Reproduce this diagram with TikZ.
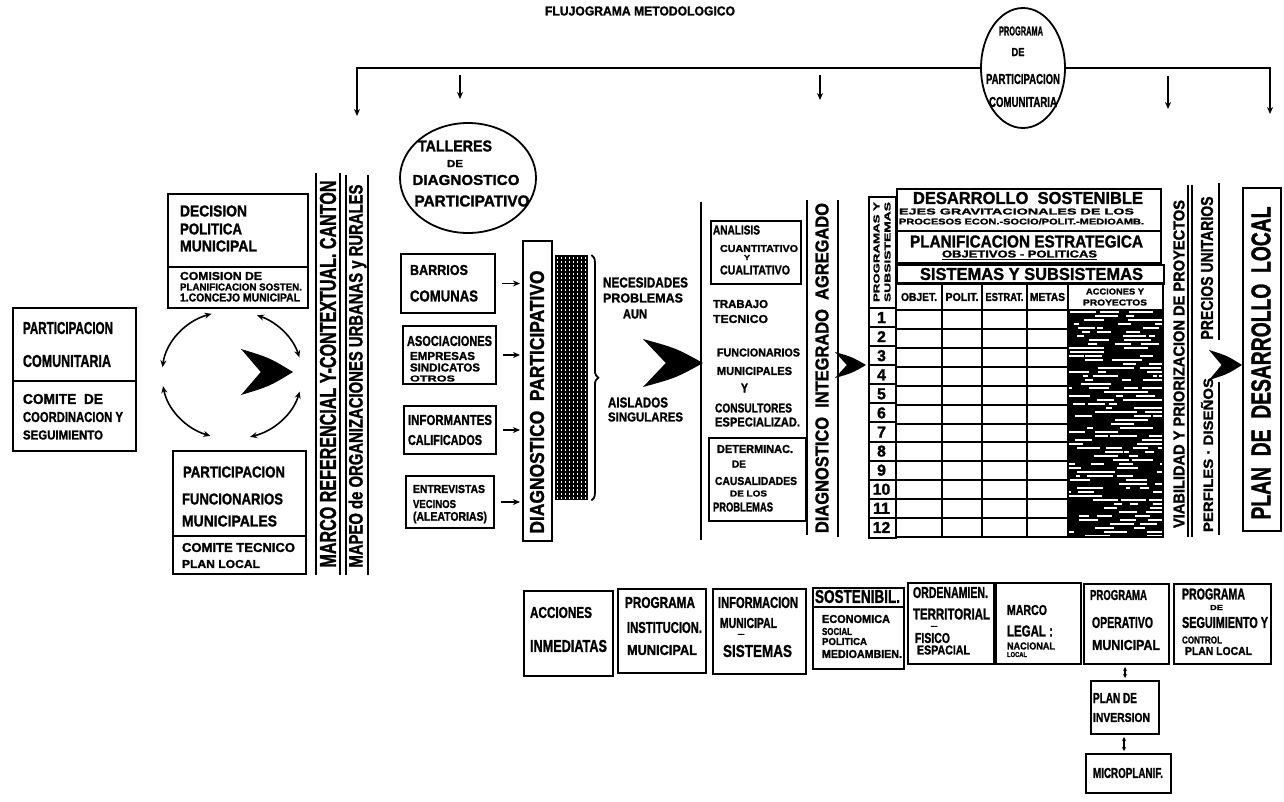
\documentclass[tikz,border=0pt]{standalone}
\usepackage{fontspec}
\setmainfont{Liberation Sans}[BoldFeatures={FakeBold=1.5}]
\usepackage{graphicx}
\usetikzlibrary{arrows.meta,decorations.pathreplacing,shapes.geometric,calc}
\newcommand{\fitt}[3]{\resizebox{#1pt}{#2pt}{\bfseries #3}}
\newcommand{\fith}[2]{\resizebox{!}{#1pt}{\bfseries #2}}
\newcommand{\fletch}[4]{%
\fill[black] (#1,#2) .. controls ({#1-0.45*#3},{#2-0.62*#4}) .. ({#1-#3},{#2-#4})
 .. controls ({#1-0.8*#3},{#2-0.5*#4}) .. ({#1-0.62*#3},#2)
 .. controls ({#1-0.8*#3},{#2+0.5*#4}) .. ({#1-#3},{#2+#4})
 .. controls ({#1-0.45*#3},{#2+0.62*#4}) .. (#1,#2) -- cycle;}
\begin{document}
\begin{tikzpicture}[x=1pt,y=-1pt,
 box/.style={draw, line width=2pt, inner sep=0, anchor=north west},
 txt/.style={inner sep=0, outer sep=0, anchor=west},
 ctxt/.style={inner sep=0, outer sep=0},
 vtxt/.style={inner sep=0, outer sep=0, rotate=90},
 ln/.style={line width=2pt},
 arr/.style={line width=1.6pt, -{Stealth[length=7pt,width=6pt]}},
 dbl/.style={line width=1.6pt, {Stealth[length=7pt,width=6pt]}-{Stealth[length=7pt,width=6pt]}},
 sdbl/.style={line width=1.4pt, {Stealth[length=4pt,width=4pt]}-{Stealth[length=4pt,width=4pt]}},
]
\fill[white] (0,0) rectangle (1284,801);
\useasboundingbox (0,0) rectangle (1284,801);

% title
\node[ctxt] (title) at (640,11) {\fitt{190}{9}{FLUJOGRAMA METODOLOGICO}};

% programa de participacion comunitaria
\node[draw, ellipse, line width=1.8pt, minimum width=84pt, minimum height=120pt, inner sep=0] (ppc) at (1023,68) {};
\node[ctxt] (ppc1) at (1021,31) {\fitt{44}{9}{PROGRAMA}};
\node[ctxt] (ppc2) at (1018,52) {\fitt{13}{8}{DE}};
\node[ctxt] (ppc3) at (1023,79) {\fitt{74}{10}{PARTICIPACION}};
\node[ctxt] (ppc4) at (1023,102) {\fitt{68}{10}{COMUNITARIA}};
\coordinate (barL) at (357,68);
\coordinate (barR) at (1270,68);
\coordinate (aL) at (357,116);
\coordinate (aR) at (1270,114);
\draw[arr] (ppc.west) -- (barL) -- (aL);
\draw[arr] (ppc.east) -- (barR) -- (aR);
\coordinate (s1a) at (460,75); \coordinate (s1b) at (460,99);
\coordinate (s2a) at (820,75); \coordinate (s2b) at (820,100);
\coordinate (s3a) at (1168,76); \coordinate (s3b) at (1168,109);
\draw[arr] (s1a) -- (s1b);
\draw[arr] (s2a) -- (s2b);
\draw[arr] (s3a) -- (s3b);

% left box
\node[box, minimum width=123pt, minimum height=143pt] (lb) at (12,307) {};
\draw[ln] ([yshift=-74pt]lb.north west) -- ([yshift=-74pt]lb.north east);
\node[txt] (lb1) at (23,328) {\fitt{90}{12}{PARTICIPACION}};
\node[txt] (lb2) at (23,361) {\fitt{88}{12}{COMUNITARIA}};
\node[txt] (lb3) at (23,399) {\fitt{80}{10}{COMITE \ DE}};
\node[txt] (lb4) at (23,417) {\fitt{100}{10}{COORDINACION Y}};
\node[txt] (lb5) at (23,435) {\fitt{80}{9}{SEGUIMIENTO}};

% decision politica
\node[box, minimum width=140pt, minimum height=114pt] (dp) at (167,193) {};
\draw[ln] ([yshift=-74pt]dp.north west) -- ([yshift=-74pt]dp.north east);
\node[txt] (dp1) at (180,211) {\fitt{67}{11}{DECISION}};
\node[txt] (dp2) at (180,229) {\fitt{62}{11}{POLITICA}};
\node[txt] (dp3) at (180,246) {\fitt{77}{11}{MUNICIPAL}};
\node[txt] (dp4) at (180,276) {\fitt{82}{8}{COMISION DE}};
\node[txt] (dp5) at (180,287) {\fitt{122}{7}{PLANIFICACION SOSTEN.}};
\node[txt] (dp6) at (180,297.5) {\fitt{120}{8}{1.CONCEJO MUNICIPAL}};

% participacion funcionarios
\node[box, minimum width=133pt, minimum height=123pt] (pf) at (172,450) {};
\draw[ln] ([yshift=-86pt]pf.north west) -- ([yshift=-86pt]pf.north east);
\node[txt] (pf1) at (183,472) {\fitt{102}{11}{PARTICIPACION}};
\node[txt] (pf2) at (182,499) {\fitt{101}{11}{FUNCIONARIOS}};
\node[txt] (pf3) at (182,521) {\fitt{95}{11}{MUNICIPALES}};
\node[txt] (pf4) at (182,547.5) {\fitt{113}{9}{COMITE TECNICO}};
\node[txt] (pf5) at (182,564) {\fitt{78}{8}{PLAN LOCAL}};

% cycle of arrows
\coordinate (cyc) at (232,375);
\draw[dbl] ([shift={(-173:70 and 64)}]cyc) arc[start angle=-173, end angle=-107, x radius=70, y radius=64];
\draw[dbl] ([shift={(-69:70 and 64)}]cyc) arc[start angle=-69, end angle=-16, x radius=70, y radius=64];
\draw[dbl] ([shift={(-190:70 and 64)}]cyc) arc[start angle=-190, end angle=-252, x radius=70, y radius=64];
\draw[dbl] ([shift={(-285:70 and 64)}]cyc) arc[start angle=-285, end angle=-345, x radius=70, y radius=64];
\fletch{293}{372}{52}{23}

% vertical bars marco / mapeo
\draw[ln] (316,173) -- (316,575);
\draw[ln] (340,173) -- (340,575);
\draw[ln] (346,175) -- (346,575);
\draw[ln] (368,175) -- (368,575);
\node[vtxt] (marco) at (328,374) {\fitt{387}{16}{MARCO REFERENCIAL Y-CONTEXTUAL. CANTON}};
\node[vtxt] (mapeo) at (357.5,376) {\fitt{383}{14}{MAPEO de ORGANIZACIONES URBANAS y RURALES}};

% talleres
\node[draw, ellipse, line width=1.8pt, minimum width=136pt, minimum height=110pt, inner sep=0] (tal) at (468,178) {};
\node[ctxt] (tal1) at (455,146) {\fitt{74}{11}{TALLERES}};
\node[ctxt] (tal2) at (455,163.5) {\fitt{16}{7}{DE}};
\node[ctxt] (tal3) at (466,180) {\fitt{107}{10}{DIAGNOSTICO}};
\node[ctxt] (tal4) at (472,201) {\fitt{115}{11}{PARTICIPATIVO}};

% input boxes
\node[box, minimum width=94pt, minimum height=59pt] (b1) at (400,253) {};
\node[txt] (b1a) at (410,270) {\fitt{58}{10}{BARRIOS}};
\node[txt] (b1b) at (410,296) {\fitt{68}{11}{COMUNAS}};
\node[box, minimum width=93pt, minimum height=58pt] (b2) at (402,325) {};
\node[txt] (b2a) at (407,341) {\fitt{85}{10}{ASOCIACIONES}};
\node[txt] (b2b) at (410,356) {\fitt{65}{8}{EMPRESAS}};
\node[txt] (b2c) at (410,367.5) {\fitt{70}{8}{SINDICATOS}};
\node[txt] (b2d) at (410,378.5) {\fitt{45}{6}{OTROS}};
\node[box, minimum width=92pt, minimum height=48pt] (b3) at (403,405) {};
\node[txt] (b3a) at (408,420) {\fitt{84}{10}{INFORMANTES}};
\node[txt] (b3b) at (408,440) {\fitt{74}{10}{CALIFICADOS}};
\node[box, minimum width=88pt, minimum height=52pt] (b4) at (405,475) {};
\node[txt] (b4a) at (413,489) {\fitt{72}{8}{ENTREVISTAS}};
\node[txt] (b4b) at (413,504) {\fitt{43}{8}{VECINOS}};
\node[txt] (b4c) at (413,517.5) {\fitt{74}{9}{(ALEATORIAS)}};

% diagnostico participativo
\node[box, minimum width=29pt, minimum height=300pt] (diag) at (522,240) {};
\node[vtxt] (diagt) at (537,402) {\fitt{263}{14}{DIAGNOSTICO \ PARTICIPATIVO}};
\foreach \b in {b1,b2,b3,b4}
  \draw[arr, shorten >=2pt] ([xshift=6pt]\b.east) -- (\b.east -| diag.west);

% hatched bar
\node[fill=black, inner sep=0, anchor=north west, minimum width=33pt, minimum height=245pt] (hatch) at (555,255) {};
\foreach \i in {0,...,7}
  \foreach \j in {0,...,60}
    \fill[white] ({556.5+\i*4},{257+\j*4}) rectangle ++(1.8,1.8);
\draw[line width=1.8pt, decorate, decoration={brace, amplitude=7pt}] ([xshift=3pt]hatch.north east) -- ([xshift=3pt]hatch.south east);

\node[txt] (nec1) at (603,282.5) {\fitt{85}{10}{NECESIDADES}};
\node[txt] (nec2) at (603,298) {\fitt{80}{9}{PROBLEMAS}};
\node[txt] (nec3) at (623,314) {\fitt{24}{9}{AUN}};
\node[txt] (ais1) at (608,402.5) {\fitt{60}{10}{AISLADOS}};
\node[txt] (ais2) at (608,417) {\fitt{75}{9}{SINGULARES}};
\fletch{703}{363}{60}{24}

% middle section
\draw[ln] (701,202) -- (701,540);
\node[box, minimum width=90pt, minimum height=63pt] (an) at (710,220) {};
\node[txt] (an1) at (713,230) {\fitt{47}{9}{ANALISIS}};
\node[txt] (an2) at (720,248.5) {\fitt{78}{7}{CUANTITATIVO}};
\node[txt] (an3) at (744,257.5) {\fitt{6}{5}{Y}};
\node[txt] (an4) at (720,270) {\fitt{70}{9}{CUALITATIVO}};
\node[txt] (tr1) at (713,304) {\fitt{55}{8}{TRABAJO}};
\node[txt] (tr2) at (713,319) {\fitt{55}{8}{TECNICO}};
\node[txt] (fu1) at (717,352.5) {\fitt{83}{8}{FUNCIONARIOS}};
\node[txt] (fu2) at (717,371) {\fitt{75}{8}{MUNICIPALES}};
\node[txt] (fu3) at (741,388) {\fitt{7}{9}{Y}};
\node[txt] (fu4) at (715,408) {\fitt{77}{9}{CONSULTORES}};
\node[txt] (fu5) at (715,422) {\fitt{85}{9}{ESPECIALIZAD.}};
\node[box, minimum width=97pt, minimum height=83pt] (dt) at (708,437) {};
\node[txt] (dt1) at (717,449) {\fitt{76}{8}{DETERMINAC.}};
\node[txt] (dt2) at (732,464) {\fitt{14}{7}{DE}};
\node[txt] (dt3) at (715,481) {\fitt{82}{8}{CAUSALIDADES}};
\node[txt] (dt4) at (730,493.5) {\fitt{37}{6}{DE LOS}};
\node[txt] (dt5) at (713,507) {\fitt{60}{9}{PROBLEMAS}};

\draw[ln] (807,200) -- (807,535);
\draw[ln] (838,200) -- (838,537);
\node[vtxt] (dia) at (822,368) {\fitt{330}{13}{DIAGNOSTICO \ INTEGRADO \ AGREGADO}};
\fletch{866}{365}{31}{13}

% table: numbers column
\node[box, minimum width=27pt, minimum height=341pt] (nc) at (868,196) {};
\foreach \i in {0,...,11}
  \draw[ln] (868,{308+\i*19.08}) -- (895,{308+\i*19.08});
\foreach \i in {1,...,12}
  \node[ctxt] (n\i) at (881.5,{308+19.08*(\i-0.5)}) {\fith{11}{\i}};
\node[vtxt] (ncl1) at (876.5,252) {\fitt{100}{6}{PROGRAMAS Y}};
\node[vtxt] (ncl2) at (887.5,252) {\fitt{100}{6}{SUBSISTEMAS}};

% table header boxes
\node[box, minimum width=264pt, minimum height=42pt] (ds) at (896,188) {};
\node[ctxt] (ds1) at (1028,198) {\fitt{230}{12}{DESARROLLO \ SOSTENIBLE}};
\node[txt] (ds2) at (899,211.5) {\fitt{235}{6}{EJES GRAVITACIONALES DE LOS}};
\node[txt] (ds3) at (899,221.5) {\fitt{245}{6}{PROCESOS ECON.-SOCIO/POLIT.-MEDIOAMB.}};
\node[box, minimum width=264pt, minimum height=32pt] (pe) at (896,230) {};
\node[txt] (pe1) at (910,241.5) {\fitt{233}{12}{PLANIFICACION ESTRATEGICA}};
\node[txt] (pe2) at (942,254) {\fitt{155}{7}{OBJETIVOS - POLITICAS}};
\draw[line width=1.2pt] ([yshift=-2pt]pe2.south west) -- ([yshift=-2pt]pe2.south east);
\node[box, minimum width=267pt, minimum height=19pt] (ss) at (896,264) {};
\node[txt] (ss1) at (920,274) {\fitt{223}{12}{SISTEMAS Y SUBSISTEMAS}};

% dark column
\begin{scope}
\clip (1068,310) rectangle (1163,537);
\fill[black] (1068,310) rectangle (1163,537);
\pgfmathsetseed{11}
\foreach \j in {0,...,56}{
  \foreach \k in {1,...,4}{
    \pgfmathsetmacro{\xs}{1066+rnd*95}
    \pgfmathsetmacro{\dl}{4+rnd*22}
    \draw[white, line width=1.1pt] (\xs,{312+\j*4}) -- ++(\dl,0);
  }
}
\end{scope}

% table grid
\draw[ln] (896,283) rectangle (1163,537);
\foreach \xx in {942,982,1027,1068} \draw[ln] (\xx,283) -- (\xx,537);
\foreach \i in {0,...,11} \draw[ln] (896,{310+\i*18.92}) -- (1068,{310+\i*18.92});
\draw[ln] (1068,310) -- (1163,310);
\node[ctxt] (h1) at (919,297) {\fitt{36}{8}{OBJET.}};
\node[ctxt] (h2) at (962,297) {\fitt{33}{8}{POLIT.}};
\node[ctxt] (h3) at (1004.5,297) {\fitt{38}{8}{ESTRAT.}};
\node[ctxt] (h4) at (1047.5,297) {\fitt{35}{8}{METAS}};
\node[ctxt] (h5) at (1115,291.5) {\fitt{58}{6}{ACCIONES Y}};
\node[ctxt] (h6) at (1115,302.5) {\fitt{64}{6}{PROYECTOS}};

% viabilidad etc.
\node[vtxt] (via) at (1179,364) {\fitt{328}{11}{VIABILIDAD Y PRIORIZACION DE PROYECTOS}};
\draw[ln] (1188,185) -- (1188,537);
\draw[ln] (1192,185) -- (1192,537);
\node[vtxt] (per) at (1207,455) {\fitt{154}{12}{PERFILES · DISEÑOS}};
\node[vtxt] (pre) at (1207,268) {\fitt{143}{12}{PRECIOS UNITARIOS}};
\draw[ln] (1219,183) -- (1219,340);
\draw[ln] (1219,382) -- (1219,535);
\fletch{1242}{365}{33}{15}
\node[box, minimum width=38pt, minimum height=343pt] (pdl) at (1242,187) {};
\node[vtxt] (pdlt) at (1261,363) {\fitt{313}{19}{PLAN \ DE \ DESARROLLO \ LOCAL}};

% bottom boxes
\node[box, minimum width=89pt, minimum height=85pt] (ai) at (523,590) {};
\node[txt] (ai1) at (530,612.5) {\fitt{62}{11}{ACCIONES}};
\node[txt] (ai2) at (530,646) {\fitt{77}{12}{INMEDIATAS}};

\node[box, minimum width=88pt, minimum height=84pt] (pi) at (617,588) {};
\node[txt] (pi1) at (625,602.5) {\fitt{70}{11}{PROGRAMA}};
\node[txt] (pi2) at (627,627.5) {\fitt{75}{11}{INSTITUCION.}};
\node[txt] (pi3) at (627,650) {\fitt{70}{10}{MUNICIPAL}};

\node[box, minimum width=93pt, minimum height=85pt] (im) at (712,588) {};
\node[txt] (im1) at (718,602.5) {\fitt{80}{11}{INFORMACION}};
\node[txt] (im2) at (720,623) {\fitt{57}{10}{MUNICIPAL}};
\node[ctxt] (im3) at (741,635) {\fitt{8}{2}{-}};
\node[txt] (im4) at (723,651) {\fitt{69}{12}{SISTEMAS}};

\node[box, minimum width=91pt, minimum height=81pt] (sb) at (812,587) {};
\draw[ln] ([yshift=-20pt]sb.north west) -- ([yshift=-20pt]sb.north east);
\node[txt] (sb1) at (815,596.5) {\fitt{85}{13}{SOSTENIBIL.}};
\node[txt] (sb2) at (822,619) {\fitt{68}{8}{ECONOMICA}};
\node[txt] (sb3) at (822,631.5) {\fitt{30}{7}{SOCIAL}};
\node[txt] (sb4) at (822,641.5) {\fitt{45}{7}{POLITICA}};
\node[txt] (sb5) at (822,654) {\fitt{80}{8}{MEDIOAMBIEN.}};

\node[box, minimum width=86pt, minimum height=81pt] (ot) at (907,582) {};
\node[txt] (ot1) at (913,592.5) {\fitt{75}{11}{ORDENAMIEN.}};
\node[txt] (ot2) at (913,614) {\fitt{77}{11}{TERRITORIAL}};
\node[ctxt] (ot3) at (934,627) {\fitt{8}{2}{-}};
\node[txt] (ot4) at (915,638) {\fitt{35}{10}{FISICO}};
\node[txt] (ot5) at (917,650) {\fitt{53}{9}{ESPACIAL}};

\node[box, minimum width=85pt, minimum height=81pt] (ml) at (995,582) {};
\node[txt] (ml1) at (1007,610) {\fitt{40}{10}{MARCO}};
\node[txt] (ml2) at (1007,631) {\fitt{46}{11}{LEGAL :}};
\node[txt] (ml3) at (1007,646) {\fitt{48}{7}{NACIONAL}};
\node[txt] (ml4) at (1007,654.5) {\fitt{20}{5}{LOCAL}};

\node[box, minimum width=85pt, minimum height=80pt] (po) at (1083,583) {};
\node[txt] (po1) at (1090,595) {\fitt{57}{10}{PROGRAMA}};
\node[txt] (po2) at (1092,622.5) {\fitt{61}{11}{OPERATIVO}};
\node[txt] (po3) at (1092,645) {\fitt{68}{10}{MUNICIPAL}};

\node[box, minimum width=97pt, minimum height=80pt] (ps) at (1173,583) {};
\node[txt] (ps1) at (1182,594) {\fitt{63}{11}{PROGRAMA}};
\node[txt] (ps2) at (1210,607.5) {\fitt{13}{5}{DE}};
\node[txt] (ps3) at (1182,622.5) {\fitt{86}{11}{SEGUIMIENTO Y}};
\node[txt] (ps4) at (1182,640) {\fitt{40}{7}{CONTROL}};
\node[txt] (ps5) at (1185,651) {\fitt{67}{8}{PLAN LOCAL}};

\node[box, minimum width=68pt, minimum height=53pt] (pinv) at (1090,680) {};
\node[txt] (pinv1) at (1093,698) {\fitt{44}{10}{PLAN DE}};
\node[txt] (pinv2) at (1093,717.5) {\fitt{57}{9}{INVERSION}};

\node[box, minimum width=85pt, minimum height=39pt] (mp) at (1085,753) {};
\node[txt] (mp1) at (1093,773) {\fitt{70}{10}{MICROPLANIF.}};

\draw[sdbl] ([yshift=-2pt]po.south -| 1125,0) -- ([yshift=2pt]pinv.north -| 1125,0);
\draw[sdbl] ([yshift=-2pt]pinv.south -| 1124,0) -- ([yshift=2pt]mp.north -| 1124,0);
\end{tikzpicture}
\end{document}
